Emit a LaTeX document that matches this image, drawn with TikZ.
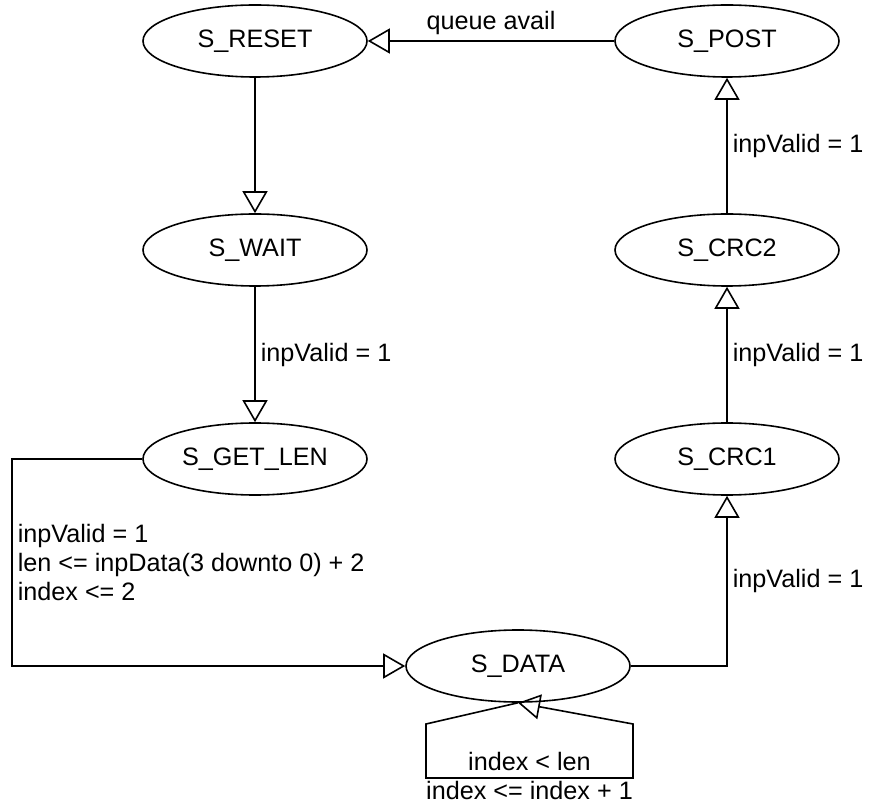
\documentclass[tikz,border=0pt]{standalone}
\usepackage{fontspec}
\setmainfont{Liberation Sans}
\usetikzlibrary{shapes.geometric,arrows.meta}

\begin{document}
\begin{tikzpicture}[
    x=0.5pt, y=-0.5pt,
    font=\fontsize{12.6}{14.3}\selectfont,
    line width=0.8pt,
    >={Triangle[open,length=11pt,width=12.5pt]},
    state/.style={ellipse,draw,inner sep=0pt,minimum width=112pt,minimum height=36pt},
    cond/.style={inner sep=2.5pt}
    ]

    \useasboundingbox (0,0) rectangle (872,806);

    \node (reset) at (255, 41) [state] {S\_RESET};
    \node (wait) at (255, 250) [state] {S\_WAIT};
    \node (getlen) at (255, 459) [state] {S\_GET\_LEN};
    \node (data) at (518, 666) [state] {S\_DATA};
    \node (crc1) at (727, 459) [state] {S\_CRC1};
    \node (crc2) at (727, 250) [state] {S\_CRC2};
    \node (post) at (727, 41) [state] {S\_POST};

    \coordinate (gl1) at (12, 459);
    \coordinate (gl2) at (12, 666);
    \coordinate (dc1) at (727, 666);
    \coordinate (lp1) at (426, 724);
    \coordinate (lp2) at (426, 778);
    \coordinate (lp3) at (633, 778);
    \coordinate (lp4) at (633, 724);

    \draw [->] (post) to node [above,cond] {queue avail} (reset);
    \draw [->] (reset) to (wait);
    \draw [->] (wait) to node [right,cond] {inpValid = 1} (getlen);
    \draw [->] (getlen) -- (gl1) -- node [right,cond,align=left]
        {inpValid = 1\\len <= inpData(3 downto 0) + 2\\index <= 2} (gl2) -- (data);
    \draw [->] (data) -- (dc1) -- node [right,cond] {inpValid = 1} (crc1);
    \draw [->] (crc1) to node [right,cond] {inpValid = 1} (crc2);
    \draw [->] (crc2) to node [right,cond] {inpValid = 1} (post);
    \draw [->] (data.south) -- (lp1) -- (lp2)
        -- node [above,inner sep=3pt] {index < len}
           node [below,inner sep=1pt] {index <= index + 1} (lp3)
        -- (lp4) -- (data.south);

  \end{tikzpicture}
\end{document}
